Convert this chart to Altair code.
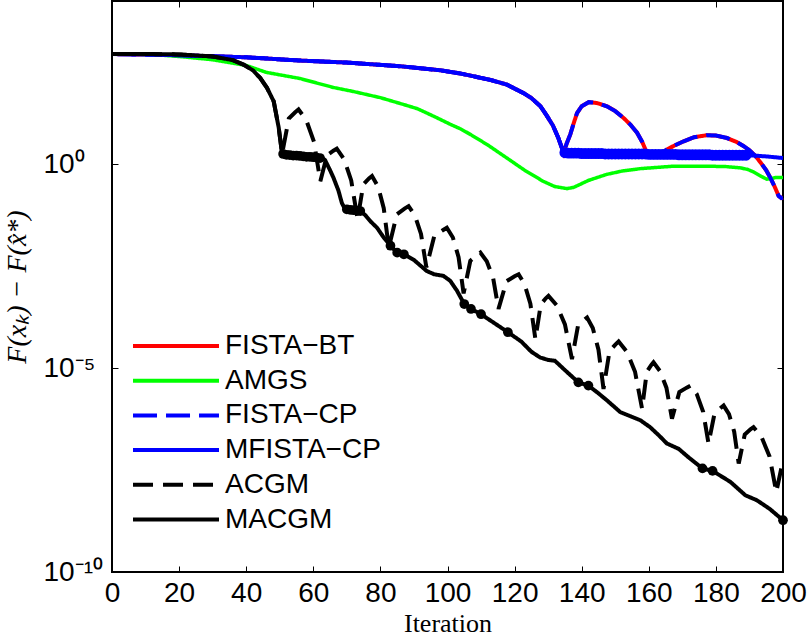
import altair as alt
import pandas as pd

# ---------------- data (log10 of F(x_k) - F(x*)) ----------------
fista_iter = [0, 20, 40, 56, 70, 86, 98, 104, 108, 113, 117.7, 122.7, 125, 127.7, 129.5, 131.4, 133, 134.6,
              135.5, 136.6, 137.6, 138.6, 140, 142.1, 144.5, 147.5, 150, 152.5, 154.5, 156.5, 158, 159,
              159.8, 162.5, 164, 165.4, 167.5, 170.4, 173.5, 177.3, 180, 183.3, 186, 188.3, 190, 191.8,
              193.5, 195, 196.2, 197.5, 198.7, 199.5, 200]
fista_log = [2.70, 2.67, 2.62, 2.54, 2.49, 2.40, 2.30, 2.22, 2.15, 2.06, 1.95, 1.74, 1.62, 1.42, 1.20, 0.95, 0.65, 0.28,
             0.50, 0.73, 1.00, 1.25, 1.42, 1.52, 1.50, 1.42, 1.30, 1.13, 0.97, 0.77, 0.55, 0.36,
             0.25, 0.24, 0.28, 0.36, 0.45, 0.56, 0.66, 0.71, 0.70, 0.64, 0.55, 0.44, 0.34, 0.20,
             0.02, -0.15, -0.33, -0.55, -0.78, -0.83, -0.82]

mfista_iter = [0, 20, 40, 56, 70, 86, 98, 104, 108, 113, 117.7, 122.7, 125, 127.7, 129.5, 131.4, 133, 134.6,
               145, 160, 175, 189.4, 195, 200]
mfista_log = [2.70, 2.67, 2.62, 2.54, 2.49, 2.40, 2.30, 2.22, 2.15, 2.06, 1.95, 1.74, 1.62, 1.42, 1.20, 0.95, 0.65, 0.28,
              0.26, 0.25, 0.23, 0.22, 0.19, 0.15]
mfista_mark_iter = list(range(135, 190))
mfista_mark_log = [0.28, 0.27, 0.27, 0.27, 0.27, 0.26, 0.26, 0.26, 0.26, 0.26,
                   0.26, 0.26, 0.25, 0.25, 0.25, 0.25, 0.25, 0.25, 0.25, 0.25,
                   0.25, 0.25, 0.25, 0.25, 0.25, 0.24, 0.24, 0.24, 0.24, 0.24,
                   0.24, 0.24, 0.24, 0.24, 0.23, 0.23, 0.23, 0.23, 0.23, 0.23,
                   0.23, 0.23, 0.23, 0.23, 0.22, 0.22, 0.22, 0.22, 0.22, 0.22,
                   0.22, 0.22, 0.22, 0.22, 0.22]

amgs_iter = [0, 10, 15, 20, 30, 40, 46, 56, 66, 72, 80, 87, 91, 96, 101, 104, 107, 112, 117.7, 123,
             128.5, 132, 135.6, 137.6, 142, 147.5, 152, 157.5, 167.4, 177.3, 183, 187.2, 189.5, 191.2,
             193.5, 195.2, 197.7, 200]
amgs_log = [2.70, 2.69, 2.67, 2.64, 2.56, 2.42, 2.25, 2.10, 1.88, 1.78, 1.63, 1.46, 1.36, 1.17, 0.97, 0.86, 0.72,
            0.47, 0.15, -0.15, -0.42, -0.55, -0.60, -0.57, -0.40, -0.25, -0.17, -0.11, -0.05, -0.05, -0.06,
            -0.09, -0.13, -0.19, -0.30, -0.37, -0.33, -0.33]

acgm_iter = [0, 10, 20, 30, 36, 39.2, 42, 44.2, 46.2, 48.2, 49.7, 50.7,
             52.7, 54.6, 55.6, 57.9, 60.2, 62.1,
             64.1, 66.0, 67.0, 69.2, 71.3, 73.2,
             74.9, 76.6, 77.5, 79.3, 81.0, 82.5,
             84.9, 87.2, 88.4, 90.3, 92.1, 93.7,
             96.1, 98.6, 99.8, 101.6, 103.3, 104.8,
             106.8, 108.8, 109.8, 111.7, 113.6, 115.2,
             117.6, 120.0, 121.2, 122.95, 124.7, 126.2,
             127.8, 129.3, 130.1, 132.55, 135.0, 137.1,
             138.9, 140.7, 141.6, 143.3, 145.0, 146.5,
             148.3, 150.1, 151.0, 153.45, 155.9, 158.0,
             159.4, 160.7, 161.4, 163.3, 165.25, 166.9,
             169.1, 171.3, 172.4, 174.3, 176.2, 177.8,
             179.6, 181.4, 182.3, 183.9, 185.45, 186.8,
             188.6, 190.3, 191.2, 193.6, 196.0, 198.0,
             200]
acgm_log = [2.70, 2.70, 2.69, 2.64, 2.55, 2.44, 2.30, 2.11, 1.87, 1.54, 0.89, 0.25,
            1.12, 1.27, 1.34, 1.08, 0.55, -0.42,
            0.22, 0.33, 0.38, 0.12, -0.40, -1.35,
            -0.50, -0.35, -0.29, -0.55, -1.08, -2.05,
            -1.23, -1.09, -1.03, -1.26, -1.71, -2.53,
            -1.75, -1.62, -1.56, -1.80, -2.28, -3.17,
            -2.37, -2.23, -2.17, -2.38, -2.79, -3.55,
            -2.87, -2.75, -2.70, -2.94, -3.42, -4.29,
            -3.44, -3.29, -3.23, -3.46, -3.93, -4.78,
            -3.96, -3.82, -3.76, -4.02, -4.55, -5.51,
            -4.58, -4.42, -4.35, -4.60, -5.09, -6.00,
            -5.09, -4.93, -4.86, -5.07, -5.48, -6.24,
            -5.59, -5.48, -5.43, -5.64, -6.07, -6.85,
            -6.11, -5.98, -5.92, -6.13, -6.56, -7.34,
            -6.63, -6.50, -6.45, -6.69, -7.17, -8.04,
            -7.26]

macgm_iter = [0, 10, 20, 30, 36, 39.2, 42, 44.2, 46.2, 48.2, 49.7, 50.7, 52, 54, 56, 58, 60, 62.6, 63.5, 65,
              66, 67.5, 68.5, 69.5, 71, 72.5, 74, 75.5, 77, 79, 81, 83, 85, 87, 90, 93.8, 96, 98.8, 100.8,
              102.8, 105, 107, 110, 114, 118, 122, 125, 127.6, 130, 132, 135, 139, 142, 145, 147.5, 151.5,
              154.5, 157.5, 160.4, 163, 165.4, 168.9, 172, 176, 179, 184.3, 188.8, 192.2, 196, 200]
macgm_log = [2.70, 2.70, 2.69, 2.64, 2.55, 2.44, 2.30, 2.11, 1.87, 1.54, 0.89, 0.25, 0.23, 0.21, 0.20, 0.18, 0.17,
             0.15, 0.10, -0.15, -0.33, -0.65, -0.95, -1.11, -1.12, -1.14, -1.15, -1.25, -1.40, -1.56, -1.80,
             -2.00, -2.17, -2.21, -2.35, -2.62, -2.70, -2.74, -2.86, -3.10, -3.43, -3.55, -3.68, -3.90, -4.12,
             -4.35, -4.60, -4.74, -4.80, -4.82, -5.05, -5.35, -5.43, -5.62, -5.79, -6.08, -6.18, -6.28, -6.45,
             -6.65, -6.85, -6.98, -7.20, -7.46, -7.52, -7.79, -8.12, -8.24, -8.45, -8.73]
macgm_mark_iter = [51, 52, 53, 54, 55, 56, 57, 58, 59, 60, 61, 62, 70, 71, 72, 73, 74,
                   83, 85, 87, 105, 107, 110, 118, 139, 142, 176, 179, 200]
macgm_mark_log = [0.25, 0.23, 0.22, 0.21, 0.21, 0.20, 0.19, 0.18, 0.18, 0.17, 0.16, 0.15,
                  -1.11, -1.12, -1.13, -1.14, -1.15,
                  -2.00, -2.17, -2.21, -3.43, -3.55, -3.68, -4.12, -5.35, -5.43, -7.46, -7.52, -8.73]

series_names = ["FISTA\u2212BT", "AMGS", "FISTA\u2212CP", "MFISTA\u2212CP", "ACGM", "MACGM"]
series_colors = ["#ff0000", "#00ff00", "#0000ff", "#0000ff", "#000000", "#000000"]
series_dashes = [[1, 0], [1, 0], [24, 9], [1, 0], [20, 10], [1, 0]]

x_ticks = [0, 20, 40, 60, 80, 100, 120, 140, 160, 180, 200]
y_ticks = [-10, -5, 0]
y_tick_labels = ["10\u207b\u00b9\u2070", "10\u207b\u2075", "10\u2070"]


def frame(iters, logs, name):
    return pd.DataFrame({"iter": iters, "logf": logs, "series": name})


x_scale = alt.Scale(domain=[0, 200], nice=False, zero=False)
y_scale = alt.Scale(domain=[-10, 4], nice=False, zero=False)
color_scale = alt.Scale(domain=series_names, range=series_colors)
dash_scale = alt.Scale(domain=series_names, range=series_dashes)

# long horizontal legend line: custom path scaled by sqrt(size)/2
legend = alt.Legend(title=None, orient="none", legendX=18, legendY=331, symbolType="M-4,0H4",
                    symbolSize=462, symbolStrokeWidth=4, symbolOffset=32, labelFont="Liberation Sans",
                    labelFontSize=28, labelOffset=35, rowPadding=6.7, padding=0, labelColor="black",
                    symbolOpacity=1, labelBaseline="middle")

label_expr = " : ".join(
    [f"datum.value == {v} ? '{t}'" for v, t in zip(y_ticks, y_tick_labels)]) + " : ''"

x_bottom = alt.Axis(orient="bottom", values=x_ticks, format="d", offset=-6, tickSize=6, domain=False,
                    grid=False, labelFont="Liberation Sans", labelFontSize=28, labelPadding=7,
                    labelColor="black", tickColor="black", title="Iteration", titleFont="Liberation Serif",
                    titleFontSize=26, titleFontWeight="normal", titleColor="black", titleY=65,
                    titleBaseline="alphabetic", labelOverlap=False, labelFlush=False)
y_left = alt.Axis(orient="left", values=y_ticks, labelExpr=label_expr, offset=-6, tickSize=6, domain=False,
                  grid=False, labelFont="Liberation Sans", labelFontSize=28, labelPadding=69, labelAlign="left",
                  labelBaseline="middle", labelColor="black", tickColor="black",
                  title="F(x\u2096) \u2212 F(x\u0302*)", titleFont="Liberation Serif", titleFontStyle="italic",
                  titleFontSize=28, titleFontWeight="normal", titleColor="black", titleX=-101,
                  titleBaseline="middle")
x_top = alt.Axis(orient="top", values=x_ticks, offset=-6, tickSize=6, domain=False, grid=False, labels=False,
                 title=None, tickColor="black")
y_right = alt.Axis(orient="right", values=y_ticks, offset=-6, tickSize=6, domain=False, grid=False, labels=False,
                   title=None, tickColor="black")


def line_layer(df, x_axis=None, y_axis=None, width=4):
    return alt.Chart(df).mark_line(strokeWidth=width).encode(
        x=alt.X("iter:Q", scale=x_scale, axis=x_axis),
        y=alt.Y("logf:Q", scale=y_scale, axis=y_axis),
        color=alt.Color("series:N", scale=color_scale, legend=legend),
        strokeDash=alt.StrokeDash("series:N", scale=dash_scale, legend=legend),
        order=alt.Order("iter:Q"),
    )


def point_layer(df, colour, size):
    return alt.Chart(df).mark_circle(size=size, opacity=1).encode(
        x=alt.X("iter:Q", scale=x_scale, axis=None),
        y=alt.Y("logf:Q", scale=y_scale, axis=None),
        color=alt.value(colour),
    )


fista_bt = line_layer(frame(fista_iter, fista_log, series_names[0]), x_bottom, y_left)
amgs = line_layer(frame(amgs_iter, amgs_log, series_names[1]), width=3.5)
fista_cp = line_layer(frame(fista_iter, fista_log, series_names[2]))
mfista = line_layer(frame(mfista_iter, mfista_log, series_names[3]))
mfista_pts = point_layer(frame(mfista_mark_iter, mfista_mark_log, series_names[3]), "#0000ff", 120)
acgm = line_layer(frame(acgm_iter, acgm_log, series_names[4]))
macgm = line_layer(frame(macgm_iter, macgm_log, series_names[5]))
macgm_pts = point_layer(frame(macgm_mark_iter, macgm_mark_log, series_names[5]), "#000000", 95)
frame_axes = alt.Chart(frame(macgm_iter, macgm_log, series_names[5])).mark_line(opacity=0).encode(
    x=alt.X("iter:Q", scale=x_scale, axis=x_top),
    y=alt.Y("logf:Q", scale=y_scale, axis=y_right),
)

chart = alt.layer(fista_bt, amgs, fista_cp, mfista, mfista_pts, acgm, macgm, macgm_pts, frame_axes).resolve_axis(
    x="independent", y="independent"
).properties(
    width=671, height=571,
    padding={"left": 112, "top": 1, "right": 26, "bottom": 64},
    autosize=alt.AutoSizeParams(type="none"),
    background="white",
).configure_view(stroke="black", strokeWidth=2)

chart.save("out.html", embed_options={"renderer": "svg", "actions": False})
